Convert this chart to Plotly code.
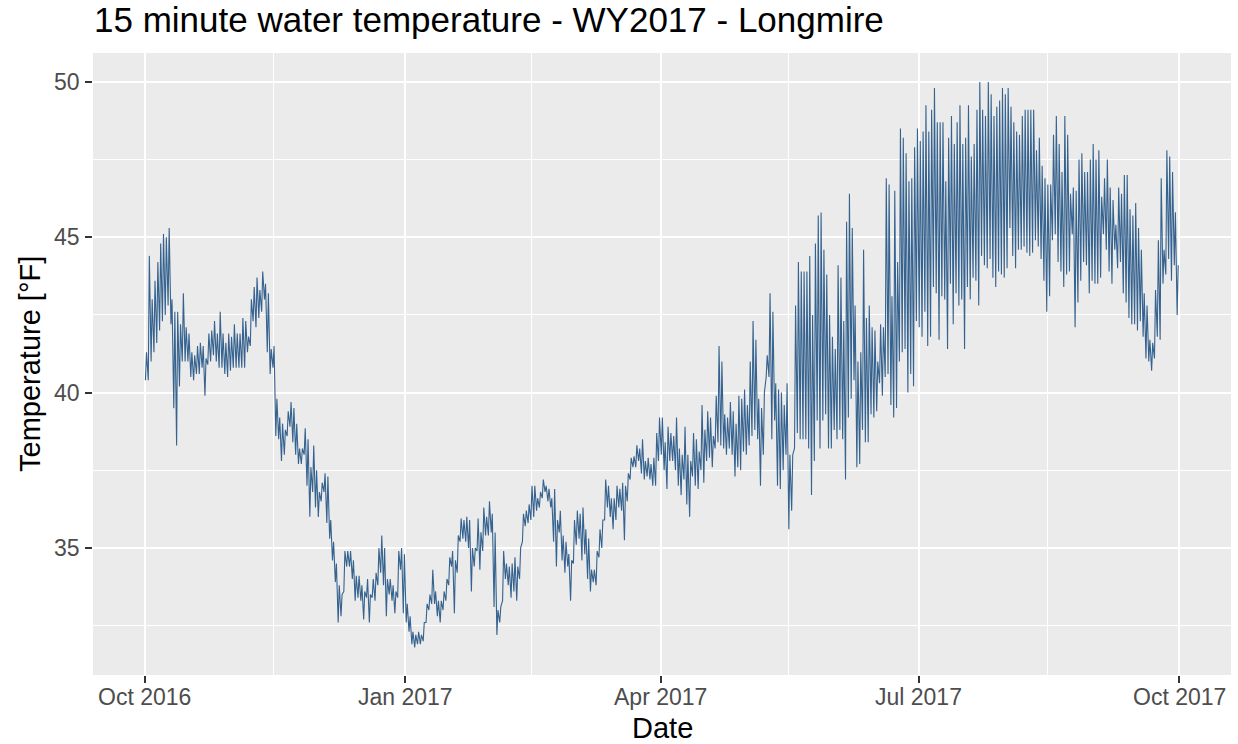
import pandas as pd
import plotly.graph_objects as go

# Estimated daily minimum / maximum of the 15-minute water temperature (°F), Oct 1 2016 .. Sep 30 2017
start_date = "2016-10-01"
daily_min = [
    40.4, 40.4, 41.0, 41.3, 41.6, 42.0, 42.3, 42.5, 42.8, 42.2,
    39.5, 38.3, 40.2, 41.0, 41.0, 41.0, 40.5, 40.4, 40.6, 40.6,
    40.8, 39.9, 40.9, 41.0, 41.2, 41.0, 40.8, 40.8, 40.6, 40.5,
    40.7, 40.8, 40.8, 40.8, 40.8, 40.8, 41.3, 41.5, 42.3, 42.1,
    42.4, 42.6, 43.0, 41.3, 40.6, 40.8, 38.6, 38.5, 37.8, 38.0,
    38.6, 38.9, 38.4, 38.0, 37.7, 37.7, 38.0, 37.0, 36.0, 36.8,
    36.3, 36.0, 36.5, 36.8, 35.8, 35.3, 34.6, 33.9, 32.6, 32.8,
    33.6, 34.4, 34.4, 34.0, 33.3, 33.4, 33.3, 32.7, 33.4, 32.6,
    33.4, 33.3, 33.8, 34.2, 33.8, 32.8, 33.5, 33.3, 32.9, 33.4,
    34.3, 32.9, 32.6, 32.3, 31.9, 31.8, 31.9, 31.9, 32.0, 32.6,
    33.0, 33.2, 33.2, 32.8, 32.6, 33.0, 33.3, 33.8, 34.4, 32.9,
    34.2, 35.2, 35.3, 35.2, 35.0, 33.6, 34.4, 34.9, 34.3, 34.9,
    35.4, 35.4, 35.5, 33.1, 32.2, 32.6, 33.3, 34.0, 33.8, 33.4,
    33.6, 33.3, 34.0, 35.2, 35.7, 35.8, 35.9, 36.0, 36.2, 36.3,
    36.6, 36.8, 36.5, 36.3, 35.2, 34.4, 35.5, 34.6, 34.2, 34.4,
    33.3, 34.5, 35.1, 35.3, 34.6, 34.8, 34.0, 33.6, 33.9, 33.8,
    34.7, 35.0, 35.9, 36.3, 36.0, 35.6, 35.9, 36.3, 36.2, 35.25,
    36.5, 37.2, 37.6, 37.6, 37.8, 37.4, 37.2, 37.3, 37.2, 37.0,
    37.0, 37.8, 38.0, 37.5, 36.9, 37.8, 37.8, 37.5, 37.0, 36.7,
    37.2, 36.4, 36.0, 37.3, 37.0, 36.9, 37.5, 37.1, 37.8, 37.9,
    37.6, 38.2, 38.4, 38.3, 38.2, 38.0, 38.2, 38.0, 37.3, 37.6,
    37.5, 38.1, 38.0, 38.3, 38.6, 38.8, 38.5, 37.0, 38.0, 40.5,
    40.5, 38.5, 39.1, 37.0, 36.9, 37.5, 38.0, 35.6, 36.2, 38.2,
    38.7, 38.5, 38.5, 38.5, 38.2, 36.7, 37.8, 39.1, 38.2, 39.1,
    39.3, 38.2, 38.2, 38.8, 38.5, 38.8, 38.5, 37.2, 39.2, 39.8,
    40.4, 37.6, 37.7, 38.8, 38.4, 38.4, 39.3, 39.2, 39.4, 40.3,
    39.9, 40.5, 40.6, 39.6, 39.2, 39.5, 41.0, 41.3, 41.4, 40.0,
    40.6, 40.2, 42.3, 42.1, 41.8, 42.6, 41.5, 41.8, 43.4, 43.2,
    41.7, 43.1, 43.0, 41.4, 43.5, 42.2, 43.2, 42.8, 43.0, 41.4,
    43.4, 43.0, 43.7, 43.6, 42.8, 44.4, 44.1, 44.0, 44.3, 43.7,
    43.4, 43.9, 43.8, 43.7, 44.0, 45.3, 44.4, 44.0, 44.6, 44.6,
    44.7, 44.5, 44.4, 44.5, 44.9, 44.7, 44.3, 43.6, 42.6, 43.1,
    44.9, 45.1, 44.2, 43.9, 43.4, 43.8, 43.9, 45.1, 42.1, 42.9,
    43.6, 44.2, 44.1, 43.2, 43.6, 43.5, 43.5, 43.7, 45.1, 44.6,
    43.9, 43.5, 44.6, 44.0, 44.2, 43.2, 42.9, 42.4, 42.2, 42.2,
    42.0, 42.3, 41.8, 41.1, 41.0, 40.7, 41.1, 41.8, 41.7, 43.5,
    43.8, 44.3, 43.6, 44.1, 42.5,
]
daily_max = [
    41.3, 44.4, 43.0, 43.6, 44.2, 44.8, 45.1, 45.0, 45.3, 43.0,
    42.6, 42.6, 42.2, 43.2, 42.1, 41.9, 41.3, 41.2, 41.5, 41.6,
    41.5, 41.1, 41.9, 42.0, 42.3, 41.9, 42.6, 41.9, 41.6, 41.9,
    41.8, 42.2, 41.9, 41.9, 42.4, 42.3, 41.8, 43.0, 43.4, 43.7,
    43.3, 43.9, 43.5, 43.2, 41.4, 41.5, 39.8, 39.2, 39.0, 38.8,
    39.4, 39.7, 39.5, 39.0, 38.2, 38.2, 38.85, 38.5, 37.6, 38.3,
    37.5, 36.8, 37.1, 37.4, 37.3, 35.9, 35.2, 34.5, 33.8, 33.5,
    34.9, 34.9, 34.9, 34.6, 34.1, 34.1, 33.8, 33.6, 34.0, 33.5,
    34.0, 34.2, 35.0, 35.4, 35.0, 34.0, 34.0, 33.8, 33.6, 34.9,
    35.0, 34.8, 33.2, 32.8, 32.3, 32.2, 32.3, 32.2, 32.6, 33.2,
    33.5, 34.3, 33.6, 33.3, 33.3, 33.6, 34.0, 34.7, 34.9, 34.6,
    35.4, 35.95, 35.9, 36.0, 35.9, 35.0, 35.0, 35.95, 35.5, 36.3,
    36.0, 36.5, 36.1, 35.5, 33.0, 33.1, 34.9, 34.5, 34.4, 34.5,
    34.7, 34.4, 35.0, 36.1, 36.2, 36.4, 37.0, 37.0, 36.6, 36.8,
    37.2, 37.0, 36.9, 36.6, 36.9, 35.9, 36.2, 35.4, 35.2, 34.8,
    34.6, 35.9, 36.2, 36.1, 36.3, 35.6, 35.3, 34.3, 34.3, 34.9,
    35.6, 35.9, 37.2, 37.0, 36.6, 36.6, 37.0, 36.9, 37.1, 37.0,
    37.4, 37.9, 37.95, 38.3, 38.2, 38.5, 37.8, 37.9, 37.7, 37.9,
    38.7, 39.2, 39.2, 38.4, 38.9, 38.7, 38.6, 39.2, 38.2, 38.0,
    38.9, 38.0, 37.8, 38.7, 38.5, 38.1, 39.6, 38.8, 39.4, 39.2,
    38.6, 39.9, 41.5, 41.0, 39.3, 39.2, 39.7, 39.4, 39.0, 39.9,
    39.8, 40.1, 39.6, 41.0, 42.3, 41.7, 39.8, 39.5, 40.0, 41.2,
    43.2, 42.6, 40.3, 40.1, 40.0, 39.6, 40.3, 38.0, 38.0, 42.8,
    44.2, 43.9, 43.9, 43.9, 44.4, 42.5, 44.8, 45.7, 45.8, 44.6,
    43.8, 42.5, 41.8, 41.4, 44.1, 43.7, 42.3, 45.5, 46.4, 45.3,
    42.8, 41.0, 41.3, 44.6, 42.4, 42.8, 42.1, 42.0, 41.0, 42.2,
    42.1, 46.9, 46.7, 43.1, 46.5, 44.2, 48.5, 48.2, 47.7, 46.8,
    46.9, 47.9, 48.5, 48.1, 48.4, 49.25, 48.4, 49.1, 49.8, 48.7,
    48.7, 48.7, 46.8, 48.2, 48.9, 48.0, 48.7, 49.25, 48.0, 48.2,
    49.25, 47.6, 48.0, 49.1, 50.0, 49.1, 48.9, 50.0, 49.6, 48.9,
    49.2, 49.4, 49.8, 49.6, 49.8, 49.2, 48.7, 48.4, 48.3, 48.9,
    49.1, 49.1, 49.1, 49.1, 47.8, 48.2, 47.3, 46.9, 46.7, 46.7,
    48.3, 48.9, 48.0, 47.1, 48.9, 48.3, 46.4, 46.6, 46.5, 47.5,
    47.7, 47.1, 47.1, 47.5, 48.0, 47.5, 47.8, 46.3, 46.9, 47.5,
    46.6, 46.2, 45.4, 46.6, 46.4, 47.0, 47.0, 45.9, 45.7, 46.1,
    45.3, 44.6, 43.2, 42.8, 41.7, 41.6, 43.3, 44.9, 46.9, 44.6,
    47.8, 47.6, 47.1, 45.8, 44.1,
]

y_ticks = [35, 40, 45, 50]
x_tick_vals = ["2016-10-01", "2017-01-01", "2017-04-01", "2017-07-01", "2017-10-01"]
x_tick_text = ["Oct 2016", "Jan 2017", "Apr 2017", "Jul 2017", "Oct 2017"]
x_minor_vals = ["2016-11-15 12:00", "2017-02-14 12:00", "2017-05-16", "2017-08-15 12:00"]
y_minor_vals = [32.5, 37.5, 42.5, 47.5]

days = pd.date_range(start_date, periods=len(daily_min), freq="D")
xs, ys = [], []
for d, lo, hi in zip(days, daily_min, daily_max):
    xs.append(d + pd.Timedelta(hours=6))
    ys.append(lo)
    xs.append(d + pd.Timedelta(hours=15))
    ys.append(hi)

fig = go.Figure()
fig.add_trace(go.Scatter(x=xs, y=ys, mode="lines",
                         line=dict(color="#35628E", width=1.1), hoverinfo="x+y"))

font_family = "Liberation Sans, Arial, sans-serif"
W, H = 1238, 744
ML, MR, MT, MB = 93, 7, 53, 69
pw, ph = W - ML - MR, H - MT - MB


def px_x(xp):
    return (xp - ML) / pw


def px_y(yp):
    return (H - MB - yp) / ph


fig.update_layout(
    width=W, height=H,
    paper_bgcolor="white", plot_bgcolor="#EBEBEB",
    margin=dict(l=ML, r=MR, t=MT, b=MB, autoexpand=False),
    showlegend=False,
    font=dict(family=font_family),
    title=dict(text="15 minute water temperature - WY2017 - Longmire",
               font=dict(size=35, color="black", family=font_family),
               x=94 / W, xanchor="left", xref="container",
               y=1 - 7 / H, yanchor="top", yref="container",
               pad=dict(l=0, r=0, t=0, b=0)),
    xaxis=dict(
        type="date", automargin=False,
        range=["2016-09-12 18:00", "2017-10-19 06:00"],
        tickmode="array", tickvals=x_tick_vals, showticklabels=False,
        ticks="outside", ticklen=7, tickwidth=1.5, tickcolor="#333333",
        showgrid=True, gridcolor="white", gridwidth=2,
        minor=dict(tickmode="array", tickvals=x_minor_vals, showgrid=True,
                   gridcolor="white", gridwidth=1, ticks=""),
        zeroline=False, showline=False,
    ),
    yaxis=dict(
        automargin=False,
        range=[30.91, 50.93],
        tickmode="array", tickvals=y_ticks, showticklabels=False,
        ticks="outside", ticklen=7, tickwidth=1.5, tickcolor="#333333",
        showgrid=True, gridcolor="white", gridwidth=2,
        minor=dict(tickmode="array", tickvals=y_minor_vals, showgrid=True,
                   gridcolor="white", gridwidth=1, ticks=""),
        zeroline=False, showline=False,
    ),
)

tick_font = dict(size=23, color="#4D4D4D", family=font_family)
for v in y_ticks:
    fig.add_annotation(text=str(v), x=px_x(81), y=v, xref="paper", yref="y",
                       xanchor="right", yanchor="middle", showarrow=False,
                       font=tick_font, borderpad=0)
for v, t in zip(x_tick_vals, x_tick_text):
    fig.add_annotation(text=t, x=v, y=px_y(697), xref="x", yref="paper",
                       xanchor="center", yanchor="middle", showarrow=False,
                       font=tick_font, borderpad=0)

fig.add_annotation(text="Date", x=px_x((ML + W - MR) / 2), y=px_y(728),
                   xref="paper", yref="paper", showarrow=False,
                   font=dict(size=29, color="black", family=font_family),
                   xanchor="center", yanchor="middle")
fig.add_annotation(text="Temperature [°F]", x=px_x(30), y=px_y(364),
                   xref="paper", yref="paper", showarrow=False, textangle=-90,
                   font=dict(size=29, color="black", family=font_family),
                   xanchor="center", yanchor="middle")

fig.write_html("out.html", config={"displayModeBar": False},
               post_script="document.body.style.margin='0px';")
